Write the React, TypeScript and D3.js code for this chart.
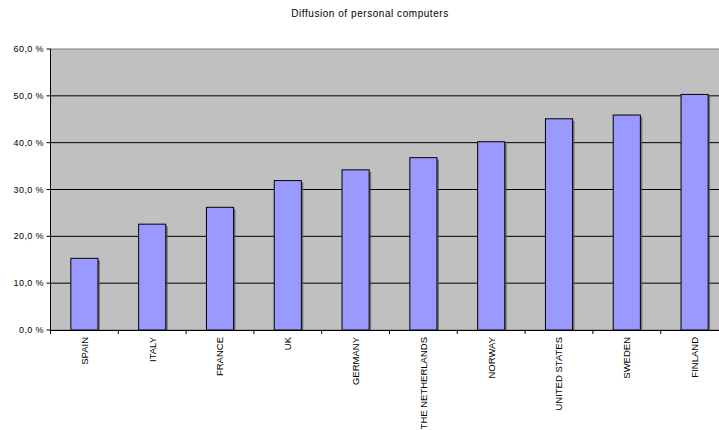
import React from "react";
import * as d3 from "d3";

const categories = ["SPAIN", "ITALY", "FRANCE", "UK", "GERMANY", "THE NETHERLANDS", "NORWAY", "UNITED STATES", "SWEDEN", "FINLAND"];
const values = [15.3, 22.6, 26.2, 31.9, 34.2, 36.8, 40.2, 45.1, 45.9, 50.3];
const yTicks = [0, 10, 20, 30, 40, 50, 60];
const title = "Diffusion of personal computers";

export default function App() {
  const W = 719, H = 430;
  const left = 50.5, right = 728.5, top = 49, bottom = 330;
  const x = d3.scaleBand<string>().domain(categories).range([left, right]).paddingInner(0.6).paddingOuter(0.3);
  const bx = d3.scaleBand<string>().domain(categories).range([left, right]);
  const y = d3.scaleLinear().domain([0, 60]).range([bottom, top]);
  const fmt = (v: number) => v.toFixed(1).replace(".", ",") + " %";
  const font = "'Liberation Sans', Arial, sans-serif";
  return (
    <svg width={W} height={H} style={{ position: "absolute", left: 0, top: 0, background: "#fff" }} fontFamily={font}>
      <text x={370} y={17} textAnchor="middle" fontSize={10} letterSpacing={0.55} fill="#000">{title}</text>
      <rect x={left} y={top} width={right - left} height={bottom - top} fill="#C0C0C0" stroke="#808080" strokeWidth={1} />
      {yTicks.filter(t => t > 0 && t < 60).map(t => (
        <line key={t} x1={left} x2={right} y1={y(t)} y2={y(t)} stroke="#000" strokeWidth={1} />
      ))}
      {categories.map((c, i) => {
        const bw = x.bandwidth();
        const x0 = x(c)!;
        const y0 = y(values[i]);
        return (
          <g key={c}>
            <rect x={x0 + 2} y={y0 + 2} width={bw} height={bottom - y0 - 2} fill="#555" opacity={0.7} />
            <rect x={x0} y={y0} width={bw} height={bottom - y0} fill="#9999FF" stroke="#000" strokeWidth={1} />
          </g>
        );
      })}
      <line x1={left} x2={left} y1={top} y2={bottom} stroke="#000" />
      <line x1={left} x2={right} y1={bottom + 0.5} y2={bottom + 0.5} stroke="#000" />
      {yTicks.map(t => (
        <g key={t}>
          <line x1={left - 4} x2={left} y1={y(t)} y2={y(t)} stroke="#000" />
          <text x={44} y={y(t)} dy="0.35em" textAnchor="end" fontSize={9} letterSpacing={0.4} fill="#000">{fmt(t)}</text>
        </g>
      ))}
      {categories.map(c => (
        <line key={"t" + c} x1={bx(c)!} x2={bx(c)!} y1={bottom} y2={bottom + 4} stroke="#000" />
      ))}
      <line x1={right} x2={right} y1={bottom} y2={bottom + 4} stroke="#000" />
      {categories.map(c => {
        const cx = x(c)! + x.bandwidth() / 2;
        return (
          <text key={"l" + c} transform={`translate(${cx},${337}) rotate(-90)`} textAnchor="end" dy="0.35em" fontSize={9.5} fill="#000">{c}</text>
        );
      })}
    </svg>
  );
}
